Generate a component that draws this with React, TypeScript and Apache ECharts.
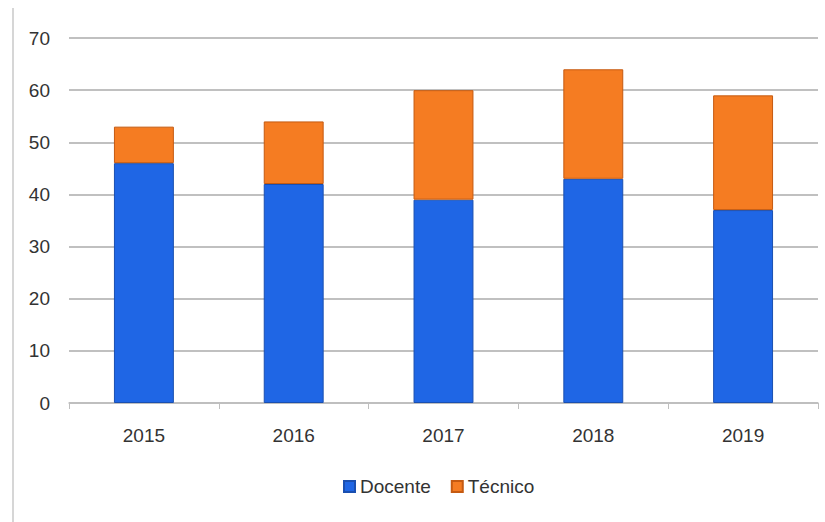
import React, { useEffect, useRef } from "react";
import * as echarts from "echarts";

const categories = ["2015", "2016", "2017", "2018", "2019"];
const docente = [46, 42, 39, 43, 37];
const tecnico = [7, 12, 21, 21, 22];
const seriesNames = ["Docente", "Técnico"];

export default function App() {
  const ref = useRef<HTMLDivElement>(null);
  useEffect(() => {
    document.body.style.margin = "0";
    const chart = echarts.init(ref.current!, undefined, { renderer: "svg" });
    const font = "'Liberation Sans', Arial, sans-serif";
    chart.setOption({
      animation: false,
      backgroundColor: "#ffffff",
      graphic: [
        {
          type: "line",
          shape: { x1: 13, y1: 8, x2: 13, y2: 522 },
          style: { stroke: "#c8c8c8", lineWidth: 1.5 },
        },
      ],
      grid: { left: 69, right: 7, top: 38, bottom: 119 },
      legend: {
        bottom: 21,
        left: 338,
        itemWidth: 11,
        itemHeight: 11,
        itemGap: 20,
        icon: "rect",
        textStyle: { fontFamily: font, fontSize: 19, color: "#333333" },
        data: seriesNames,
      },
      xAxis: {
        type: "category",
        data: categories,
        axisLine: { lineStyle: { color: "#bfbfbf", width: 1.5 } },
        axisTick: { show: true, length: 6, lineStyle: { color: "#bfbfbf" } },
        axisLabel: { fontFamily: font, fontSize: 19, color: "#333333", margin: 23 },
      },
      yAxis: {
        type: "value",
        min: 0,
        max: 70,
        interval: 10,
        axisLine: { show: false },
        axisTick: { show: false },
        splitLine: { lineStyle: { color: "#c0c0c0", width: 2 } },
        axisLabel: { fontFamily: font, fontSize: 19, color: "#333333", margin: 19 },
      },
      series: [
        {
          name: seriesNames[0],
          type: "bar",
          stack: "total",
          barWidth: "40%",
          data: docente,
          itemStyle: { color: "#1f66e5", borderColor: "#1a4fb0", borderWidth: 1 },
        },
        {
          name: seriesNames[1],
          type: "bar",
          stack: "total",
          barWidth: "40%",
          data: tecnico,
          itemStyle: { color: "#f57c22", borderColor: "#c55a11", borderWidth: 1 },
        },
      ],
    });
    return () => chart.dispose();
  }, []);
  return <div ref={ref} style={{ width: 825, height: 522 }} />;
}
